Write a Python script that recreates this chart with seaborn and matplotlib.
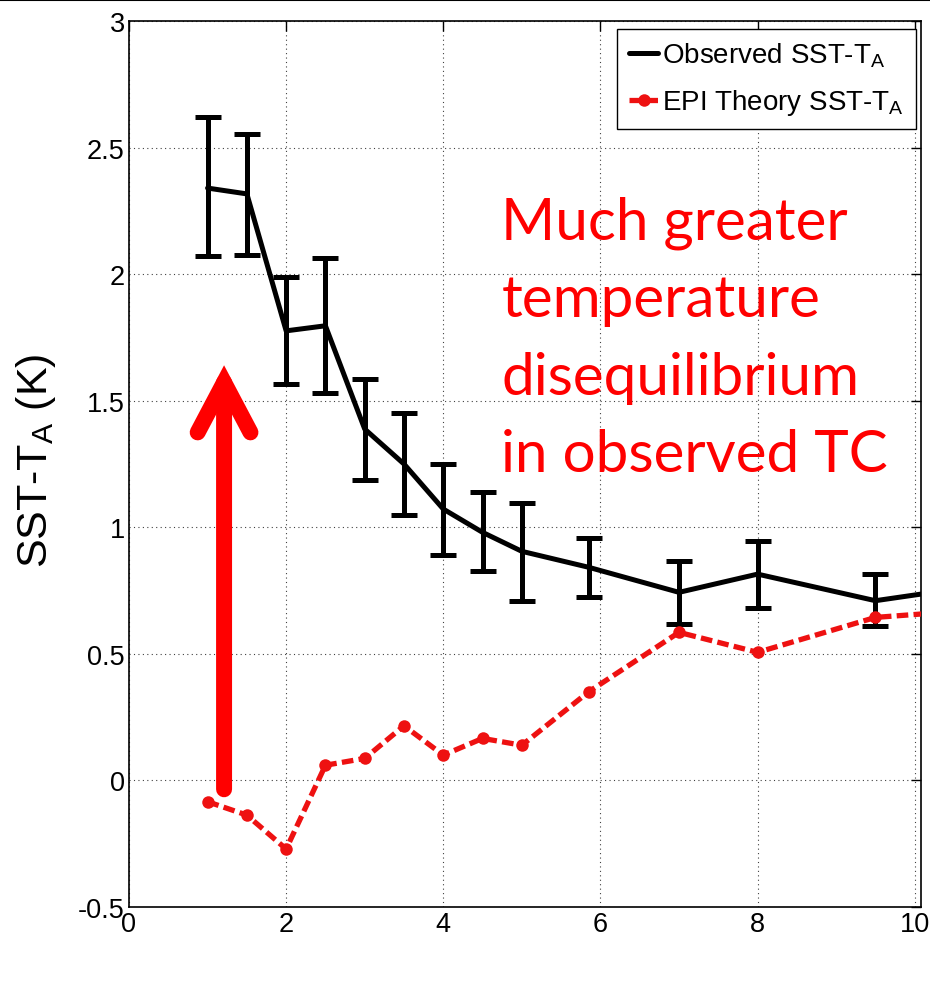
import numpy as np
import pandas as pd
import seaborn as sns
import matplotlib
matplotlib.use("Agg")
import matplotlib.pyplot as plt
from matplotlib.lines import Line2D

# ---- data ----
obs_x = [1.0, 1.5, 2.0, 2.5, 3.0, 3.5, 4.0, 4.5, 5.0, 5.85, 7.0, 8.0, 9.5, 10.5]
obs_y = [2.34, 2.317, 1.776, 1.796, 1.388, 1.25, 1.072, 0.98, 0.905, 0.842, 0.743, 0.815, 0.71, 0.755]
obs_err_lo = [0.27, 0.24, 0.21, 0.266, 0.2, 0.2, 0.18, 0.152, 0.195, 0.117, 0.125, 0.135, 0.1, np.nan]
obs_err_hi = [0.28, 0.236, 0.211, 0.266, 0.198, 0.2, 0.178, 0.16, 0.19, 0.114, 0.125, 0.129, 0.105, np.nan]

epi_x = [1.0, 1.5, 2.0, 2.5, 3.0, 3.5, 4.0, 4.5, 5.0, 5.85, 7.0, 8.0, 9.5, 10.5]
epi_y = [-0.084, -0.137, -0.271, 0.06, 0.087, 0.216, 0.10, 0.166, 0.139, 0.35, 0.585, 0.506, 0.644, 0.667]

x_ticks = [0, 2, 4, 6, 8, 10]
y_ticks = [-0.5, 0, 0.5, 1, 1.5, 2, 2.5, 3]
y_ticklabels = ["-0.5", "0", "0.5", "1", "1.5", "2", "2.5", "3"]

label_obs = r"Observed SST-T$_\mathregular{A}$"
label_epi = r"EPI Theory SST-T$_\mathregular{A}$"
y_label = r"SST-T$_\mathregular{A}$ (K)"
annotation = "Much greater\ntemperature\ndisequilibrium\nin observed TC"
arrow_x = 1.21
arrow_from = -0.035
arrow_to = 1.64

obs = pd.DataFrame({"x": obs_x, "y": obs_y})
epi = pd.DataFrame({"x": epi_x, "y": epi_y})

# ---- style ----
sns.set_style("white")
plt.rcParams["font.family"] = ["Liberation Sans", "DejaVu Sans"]
plt.rcParams["mathtext.fontset"] = "custom"
plt.rcParams["mathtext.rm"] = "Liberation Sans"
plt.rcParams["text.color"] = "black"
plt.rcParams["axes.labelcolor"] = "black"

fig = plt.figure(figsize=(9.30, 10.04), dpi=100)
ax = fig.add_axes([129 / 930, 1 - 908 / 1004, 792 / 930, 886 / 1004])

red_line = "#ee1111"

# error bars
ax.errorbar(obs_x, obs_y, yerr=[obs_err_lo, obs_err_hi], fmt="none",
            ecolor="black", elinewidth=3.6, capsize=9.7, capthick=3.6, zorder=3)

sns.lineplot(data=obs, x="x", y="y", ax=ax, color="black", lw=3.6,
             label=label_obs, zorder=4, sort=False)
sns.lineplot(data=epi, x="x", y="y", ax=ax, color=red_line, lw=3.8,
             marker="o", markersize=9, markeredgecolor=red_line,
             markeredgewidth=0, dashes=False, label=label_epi, zorder=4, sort=False)
for ln in ax.get_lines():
    if ln.get_label() == label_epi:
        ln.set_linestyle((0, (2.2, 1.0)))
        ln.set_dash_capstyle("butt")

ax.set_xlim(0, 10.08)
ax.set_ylim(-0.5, 3)
ax.set_xticks(x_ticks)
ax.set_yticks(y_ticks)
ax.set_yticklabels(y_ticklabels)
ax.tick_params(axis="both", direction="in", length=7, width=1.0, labelsize=19.5,
               top=True, right=True, pad=3, colors="black")

ax.grid(True, linestyle=(0, (1, 3)), color="black", linewidth=0.8, alpha=0.75)
ax.set_axisbelow(True)
for s in ax.spines.values():
    s.set_color("black")
    s.set_linewidth(1.2)
    s.set_visible(True)

ax.set_xlabel("")
ax.set_ylabel(y_label, fontsize=31, color="black")
ax.yaxis.set_label_coords(-0.09, 0.505)

# arrow
ax.annotate("", xy=(arrow_x, arrow_to), xytext=(arrow_x, arrow_from),
            arrowprops=dict(arrowstyle="->,head_length=3.6,head_width=1.9",
                            mutation_scale=10, lw=11.5, color="#ff0000",
                            shrinkA=0, shrinkB=0, capstyle="round", joinstyle="miter"),
            zorder=5)

# annotation text (anchored at baseline of the last line)
ax.text(4.74, 1.222, annotation, color="#ff0000", fontsize=42, family=["Lato", "DejaVu Sans"],
        ha="left", va="baseline", linespacing=1.57, zorder=5)

# legend
leg = ax.legend(loc="upper right", bbox_to_anchor=(0.9937, 0.991), borderaxespad=0,
                frameon=True, fancybox=False, framealpha=1, edgecolor="black",
                fontsize=20, handlelength=1.05, handletextpad=0.15, labelspacing=0.65,
                borderpad=0.42)
leg.get_frame().set_linewidth(1.0)

fig.add_artist(Line2D([0, 1], [0.999, 0.999], transform=fig.transFigure, color="black", lw=1.5))

fig.savefig("out.png", dpi=100)
